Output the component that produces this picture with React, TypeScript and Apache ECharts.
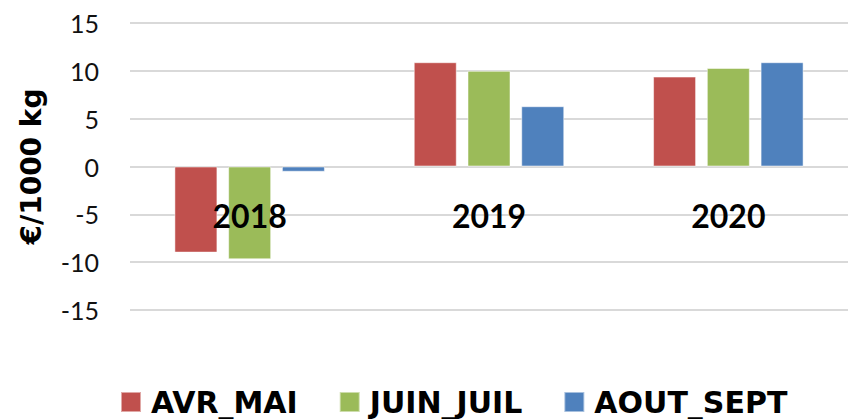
import React, { useEffect, useRef } from "react";
import * as echarts from "echarts";

const categories = ["2018", "2019", "2020"];
const seriesNames = ["AVR_MAI", "JUIN_JUIL", "AOUT_SEPT"];
const avrMai = [-9.0, 10.9, 9.4];
const juinJuil = [-9.7, 10.0, 10.3];
const aoutSept = [-0.55, 6.3, 10.9];
const colors = ["#C0504D", "#9BBB59", "#4F81BD"];

export default function App() {
  const ref = useRef<HTMLDivElement>(null);
  useEffect(() => {
    document.body.style.margin = "0";
    const chart = echarts.init(ref.current!, null, { renderer: "svg" });
    const font = "Lato, 'Open Sans', sans-serif";
    const wide = "'DejaVu Sans', sans-serif";
    const grid = { lineStyle: { color: "#d9d9d9", width: 2 } };
    const data = [avrMai, juinJuil, aoutSept];
    chart.setOption({
      animation: false,
      backgroundColor: "#ffffff",
      grid: { left: 130, top: 23, width: 726, height: 287 },
      legend: {
        left: 120,
        top: 387,
        padding: 0,
        itemWidth: 20,
        itemHeight: 20,
        itemGap: 41,
        icon: "rect",
        textStyle: {
          fontFamily: wide,
          fontSize: 30,
          lineHeight: 30,
          fontWeight: "bold",
          color: "#000",
          padding: [0, 0, 0, 5],
        },
        data: seriesNames,
      },
      xAxis: {
        type: "category",
        data: categories,
        z: 10,
        axisLine: { show: false },
        axisTick: { show: false },
        axisLabel: {
          margin: -95,
          verticalAlign: "middle",
          fontFamily: font,
          fontSize: 32,
          fontWeight: "bold",
          color: "#000",
        },
      },
      yAxis: {
        type: "value",
        min: -15,
        max: 15,
        interval: 5,
        name: "€/1000 kg",
        nameLocation: "middle",
        nameGap: 85,
        nameTextStyle: { fontFamily: wide, fontSize: 28, fontWeight: "bold", color: "#000" },
        axisLine: { show: false },
        axisTick: { show: false },
        splitLine: grid,
        axisLabel: { margin: 31, fontFamily: font, fontSize: 25, color: "#111" },
      },
      series: seriesNames.map((n, i) => ({
        name: n,
        type: "bar",
        data: data[i],
        barWidth: 43,
        barGap: "25%",
        itemStyle: { color: colors[i], borderColor: "rgba(255,255,255,0.5)", borderWidth: 1 },
      })),
    });
    return () => chart.dispose();
  }, []);
  return <div ref={ref} style={{ width: 848, height: 419 }} />;
}
